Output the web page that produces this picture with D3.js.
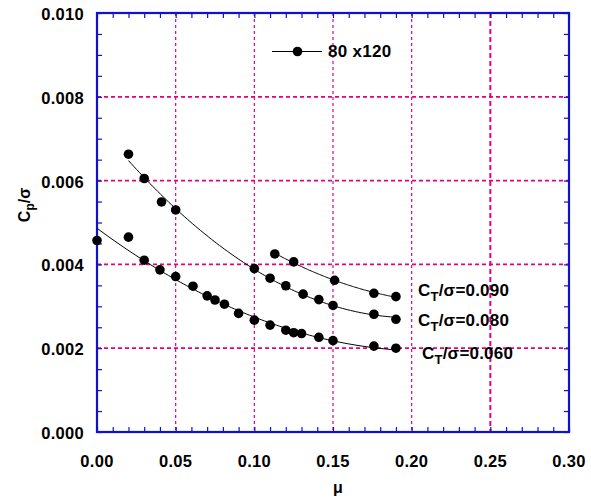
<!DOCTYPE html>
<html>
<head>
<meta charset="utf-8">
<script src="https://cdn.jsdelivr.net/npm/d3@7/dist/d3.min.js"></script>
<style>
  html, body { margin: 0; padding: 0; background: #fff; }
  svg { display: block; font-family: "Liberation Sans", Arial, sans-serif; }
</style>
</head>
<body>
<svg id="chart" width="591" height="504"></svg>
<script>
// Measured power coefficient vs advance ratio, 80 x120 rotor
const seriesNames = ["0.090", "0.080", "0.060"];
const mu090 = [0.113, 0.125, 0.151, 0.176, 0.190];
const cp090 = [0.00425, 0.00406, 0.00362, 0.00331, 0.00323];
const mu080 = [0.020, 0.030, 0.041, 0.050, 0.100, 0.110, 0.120, 0.131, 0.141, 0.150, 0.176, 0.190];
const cp080 = [0.00663, 0.00605, 0.00549, 0.00530, 0.00390, 0.00367, 0.00349, 0.00329, 0.00316, 0.00302, 0.00281, 0.00269];
const mu060 = [0.000, 0.020, 0.030, 0.040, 0.050, 0.061, 0.070, 0.075, 0.081, 0.090, 0.100, 0.110, 0.120, 0.125, 0.130, 0.141, 0.150, 0.176, 0.190];
const cp060 = [0.00457, 0.00465, 0.00410, 0.00387, 0.00371, 0.00348, 0.00325, 0.00315, 0.00305, 0.00283, 0.00267, 0.00255, 0.00243, 0.00237, 0.00235, 0.00226, 0.00218, 0.00205, 0.00200];
const xTicks = [0, 0.05, 0.10, 0.15, 0.20, 0.25, 0.30];
const yTicks = [0, 0.002, 0.004, 0.006, 0.008, 0.010];
const legendLabel = "80 x120";

(function () {
const svg = d3.select("#chart");
const pL = 97, pR = 569, pT = 13, pB = 432;
const x = d3.scaleLinear().domain([0, 0.30]).range([pL, pR]);
const y = d3.scaleLinear().domain([0, 0.010]).range([pB, pT]);

const pink = "#e6007e", blue = "#1010d0";

// grid
svg.append("g").selectAll("line").data(xTicks.slice(1, -1)).join("line")
  .attr("x1", d => x(d)).attr("x2", d => x(d)).attr("y1", pT).attr("y2", pB)
  .attr("stroke", pink)
  .attr("stroke-width", d => d === 0.25 ? 2 : 1.2)
  .attr("stroke-dasharray", d => d === 0.25 ? "5,3" : "3,3");
svg.append("g").selectAll("line").data(yTicks.slice(1, -1)).join("line")
  .attr("y1", d => y(d)).attr("y2", d => y(d)).attr("x1", pL).attr("x2", pR)
  .attr("stroke", pink).attr("stroke-width", 1.8).attr("stroke-dasharray", "4,3");

// axes with inward ticks on all four sides
const xMinor = d3.range(0, 31).map(i => i / 100);
const yMinor = d3.range(0, 21).map(i => i * 0.0005);
svg.append("g").attr("transform", `translate(0,${pB})`)
  .call(d3.axisTop(x).tickValues(xMinor).tickSize(5).tickFormat(""));
svg.append("g").attr("transform", `translate(0,${pT})`)
  .call(d3.axisBottom(x).tickValues(xMinor).tickSize(5).tickFormat(""));
svg.append("g").attr("transform", `translate(${pL},0)`)
  .call(d3.axisRight(y).tickValues(yMinor).tickSize(5).tickFormat(""));
svg.append("g").attr("transform", `translate(${pR},0)`)
  .call(d3.axisLeft(y).tickValues(yMinor).tickSize(5).tickFormat(""));
svg.selectAll(".domain").remove();
svg.selectAll(".tick line").attr("stroke", blue).attr("stroke-width", 1.2);

svg.append("rect").attr("x", pL).attr("y", pT)
  .attr("width", pR - pL).attr("height", pB - pT)
  .attr("fill", "none").attr("stroke", blue).attr("stroke-width", 2.2);

// tick labels
svg.append("g").selectAll("text").data(xTicks).join("text")
  .attr("x", d => x(d)).attr("y", 467).attr("text-anchor", "middle")
  .attr("font-size", 16.5).attr("letter-spacing", 0.3).attr("font-weight", "bold")
  .text(d => d3.format(".2f")(d));
svg.append("g").selectAll("text").data(yTicks).join("text")
  .attr("x", 84).attr("y", d => y(d) + 7).attr("text-anchor", "end")
  .attr("font-size", 16.5).attr("letter-spacing", 0.3).attr("font-weight", "bold")
  .text(d => d3.format(".3f")(d));

// axis titles
svg.append("text").attr("x", 338).attr("y", 493).attr("text-anchor", "middle")
  .attr("font-size", 16).attr("font-weight", "bold").text("μ");
const yt = svg.append("text").attr("transform", "translate(30,205) rotate(-90)")
  .attr("text-anchor", "middle").attr("font-size", 16).attr("font-weight", "bold");
yt.append("tspan").text("C");
yt.append("tspan").attr("font-size", 12).attr("dy", 4).text("p");
yt.append("tspan").attr("dy", -4).text("/σ");

// quadratic least-squares trend line for each series
function quadFit(xs, ys) {
  const n = xs.length;
  const s = [0, 0, 0, 0, 0], t = [0, 0, 0];
  for (let i = 0; i < n; i++) {
    let p = 1;
    for (let k = 0; k < 5; k++) { s[k] += p; if (k < 3) t[k] += p * ys[i]; p *= xs[i]; }
  }
  const A = [[s[0], s[1], s[2], t[0]], [s[1], s[2], s[3], t[1]], [s[2], s[3], s[4], t[2]]];
  for (let i = 0; i < 3; i++) {
    for (let j = i + 1; j < 3; j++) {
      const f = A[j][i] / A[i][i];
      for (let k = i; k < 4; k++) A[j][k] -= f * A[i][k];
    }
  }
  const c = [0, 0, 0];
  for (let i = 2; i >= 0; i--) {
    let v = A[i][3];
    for (let k = i + 1; k < 3; k++) v -= A[i][k] * c[k];
    c[i] = v / A[i][i];
  }
  return m => c[0] + c[1] * m + c[2] * m * m;
}

const groups = [
  { mu: mu090, cp: cp090 },
  { mu: mu080, cp: cp080 },
  { mu: mu060, cp: cp060 }
];
const line = d3.line().x(d => x(d[0])).y(d => y(d[1]));

groups.forEach(g => {
  const f = quadFit(g.mu, g.cp);
  const lo = d3.min(g.mu), hi = d3.max(g.mu);
  const pts = d3.range(0, 101).map(i => { const m = lo + (hi - lo) * i / 100; return [m, f(m)]; });
  svg.append("path").attr("d", line(pts)).attr("fill", "none")
    .attr("stroke", "#000").attr("stroke-width", 1);
  svg.append("g").selectAll("circle").data(g.mu.map((m, i) => [m, g.cp[i]])).join("circle")
    .attr("cx", d => x(d[0])).attr("cy", d => y(d[1])).attr("r", 4.8).attr("fill", "#000");
});

// series labels
const labelPos = [[418, 296], [418, 326], [422, 359]];
seriesNames.forEach((s, i) => {
  const t = svg.append("text").attr("x", labelPos[i][0]).attr("y", labelPos[i][1])
    .attr("font-size", 17).attr("letter-spacing", 0.2).attr("font-weight", "bold");
  t.append("tspan").text("C");
  t.append("tspan").attr("font-size", 13).attr("dy", 5).text("T");
  t.append("tspan").attr("dy", -5).text("/σ=" + s);
});

// legend
svg.append("line").attr("x1", 272).attr("x2", 322).attr("y1", 51.5).attr("y2", 51.5)
  .attr("stroke", "#000").attr("stroke-width", 1);
svg.append("circle").attr("cx", 297.5).attr("cy", 51.5).attr("r", 4.8).attr("fill", "#000");
svg.append("text").attr("x", 328).attr("y", 57).attr("font-size", 17)
  .attr("letter-spacing", 0.3).attr("font-weight", "bold").text(legendLabel);
})();
</script>
</body>
</html>
